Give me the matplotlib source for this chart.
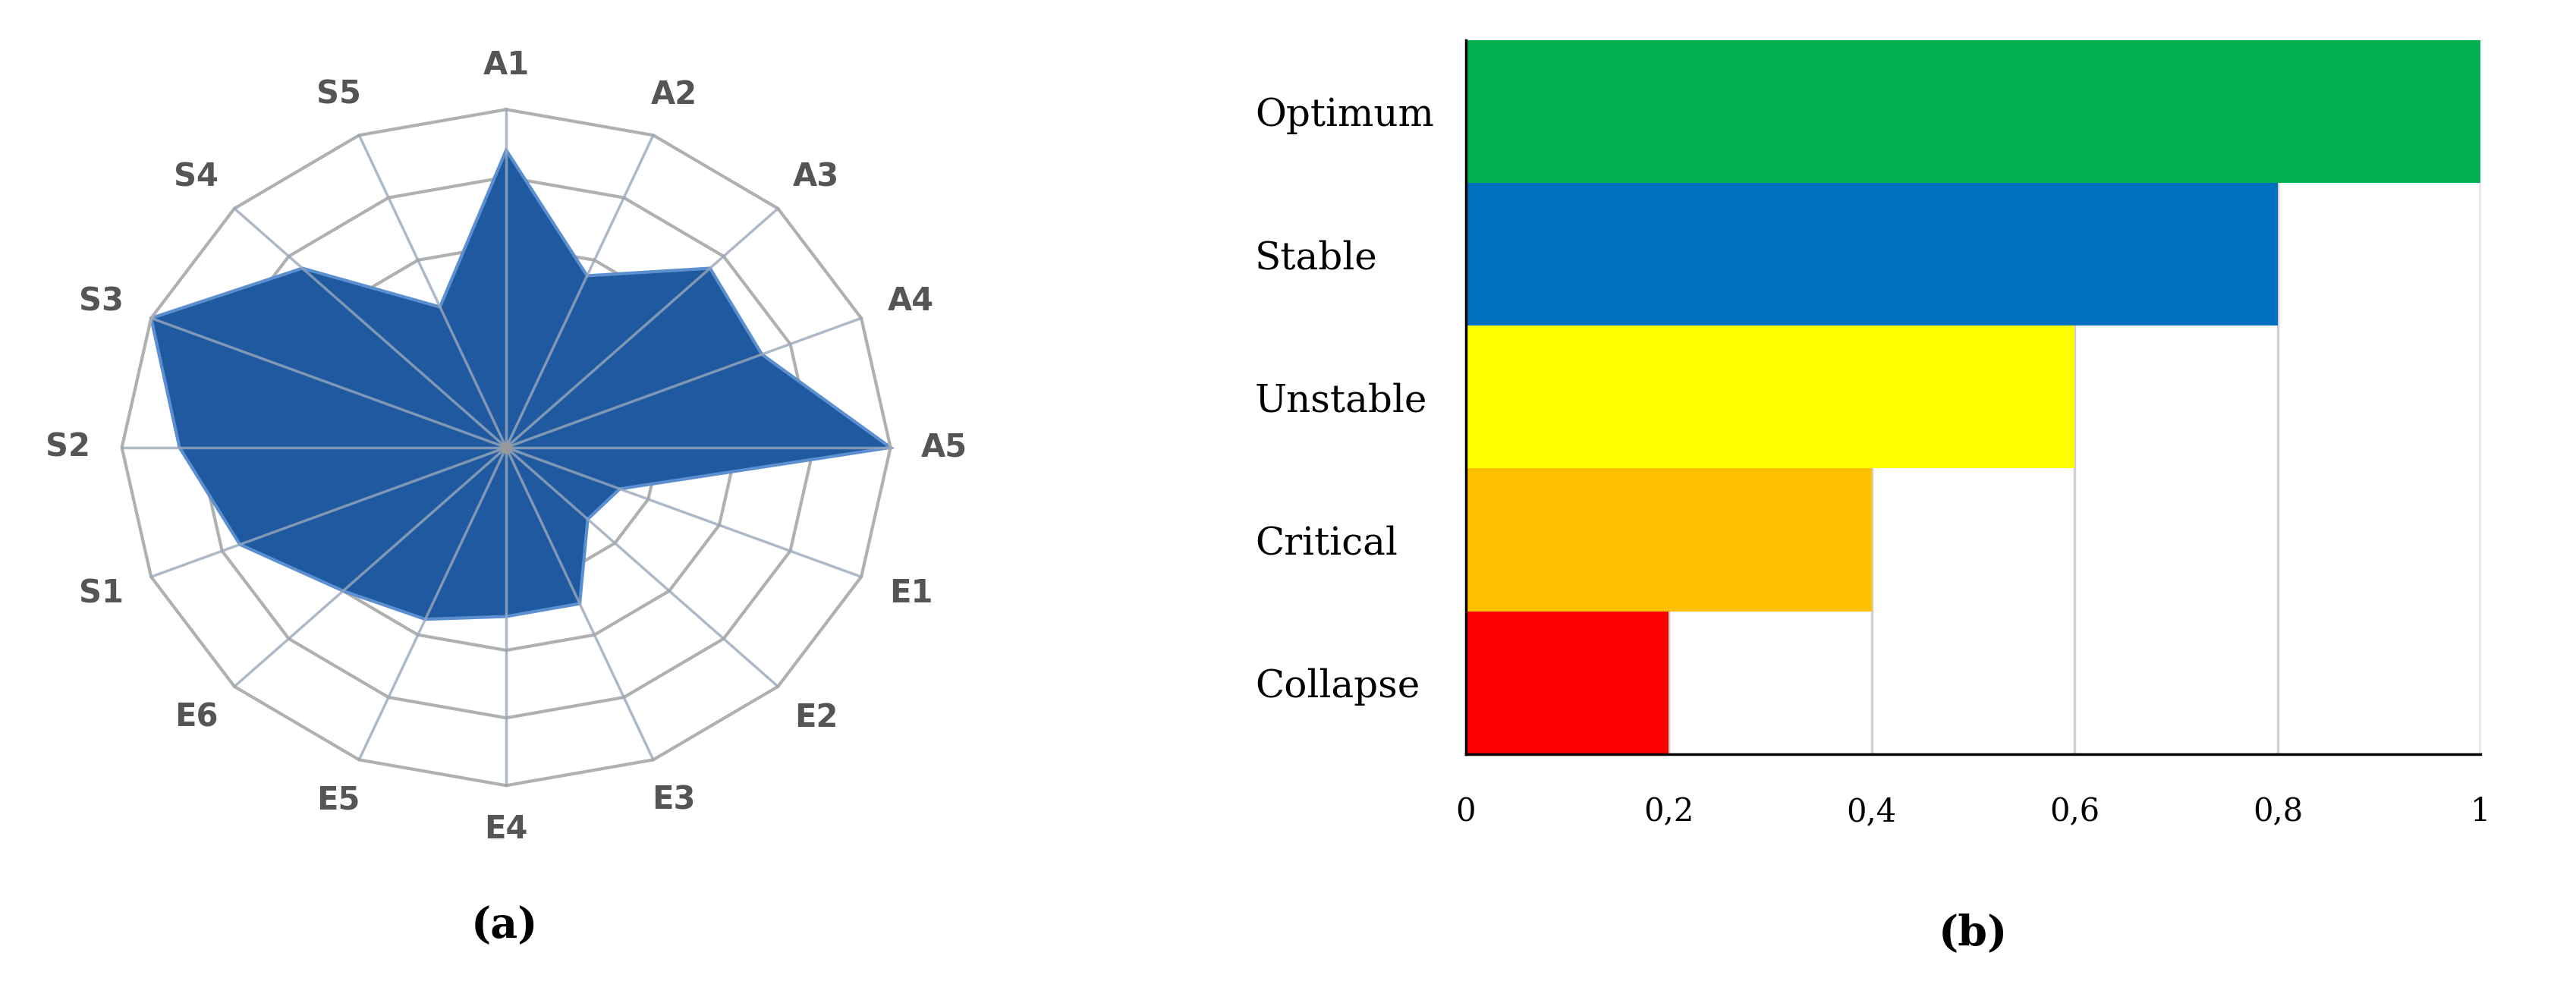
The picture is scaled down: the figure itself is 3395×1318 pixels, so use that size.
import numpy as np
import matplotlib.pyplot as plt

radar_labels = ["A1","A2","A3","A4","A5","E1","E2","E3","E4","E5","E6","S1","S2","S3","S4","S5"]
radar_values = [0.88,0.55,0.75,0.72,1.0,0.32,0.3,0.5,0.5,0.55,0.6,0.75,0.85,1.0,0.75,0.45]
bar_cats = ["Collapse","Critical","Unstable","Stable","Optimum"]
bar_vals = [0.2,0.4,0.6,0.8,1.0]
bar_colors = ["#ff0000","#ffc000","#ffff00","#0070c0","#00b050"]
xticks = [0,0.2,0.4,0.6,0.8,1]
xticklabels = ["0","0,2","0,4","0,6","0,8","1"]

fig = plt.figure(figsize=(33.95,13.18), dpi=100)

# Radar
ax = fig.add_axes([0.01,0.13,0.373,0.845])
n = len(radar_labels)
ang = np.pi/2 - np.arange(n)*2*np.pi/n
ca, sa = np.cos(ang), np.sin(ang)
v = np.array(radar_values)
ax.fill(np.r_[v*ca, v[0]*ca[0]], np.r_[v*sa, v[0]*sa[0]], color="#1f5aa0", ec="#5b8fd0", lw=3, zorder=2)
for r in [0.2,0.4,0.6,0.8,1.0]:
    ax.plot(np.r_[r*ca, r*ca[0]], np.r_[r*sa, r*sa[0]], color="#b0b0b0", lw=3, zorder=1 if r < 1 else 3)
for i in range(n):
    ax.plot([0, ca[i]], [0, sa[i]], color="#9aa8bb", lw=2.5, zorder=3, alpha=0.8)
    ax.text(1.14*ca[i], 1.13*sa[i], radar_labels[i], ha="center", va="center",
            fontsize=30, color="#555555", fontweight="bold")
ax.plot([0],[0],"o",color="#999999",ms=10,zorder=4)
ax.set_xlim(-1.25,1.25); ax.set_ylim(-1.25,1.25)
ax.axis("off")

# Bars
bx = fig.add_axes([0.569,0.246,0.394,0.714])
y = np.arange(len(bar_cats))
bx.barh(y, bar_vals, height=1.0, color=bar_colors, zorder=2)
bx.set_ylim(-0.5,4.5); bx.set_xlim(0,1)
bx.set_xticks(xticks); bx.set_xticklabels(xticklabels, family="DejaVu Serif", fontsize=30)
bx.set_yticks(y); bx.set_yticklabels(bar_cats, family="DejaVu Serif", fontsize=36)
for t in bx.get_yticklabels():
    t.set_horizontalalignment("left")
bx.tick_params(length=0, pad=40, axis="x")
bx.tick_params(length=0, pad=200, axis="y")
bx.grid(axis="x", color="#d0d0d0", lw=2.5, zorder=0)
for s in ["top","right"]:
    bx.spines[s].set_visible(False)
bx.spines["left"].set_linewidth(2.5); bx.spines["bottom"].set_linewidth(2.5)

fig.text(0.196,0.074,"(a)",ha="center",va="center",fontsize=40,fontweight="bold",family="DejaVu Serif")
fig.text(0.766,0.066,"(b)",ha="center",va="center",fontsize=40,fontweight="bold",family="DejaVu Serif")
fig.savefig("out.png")
